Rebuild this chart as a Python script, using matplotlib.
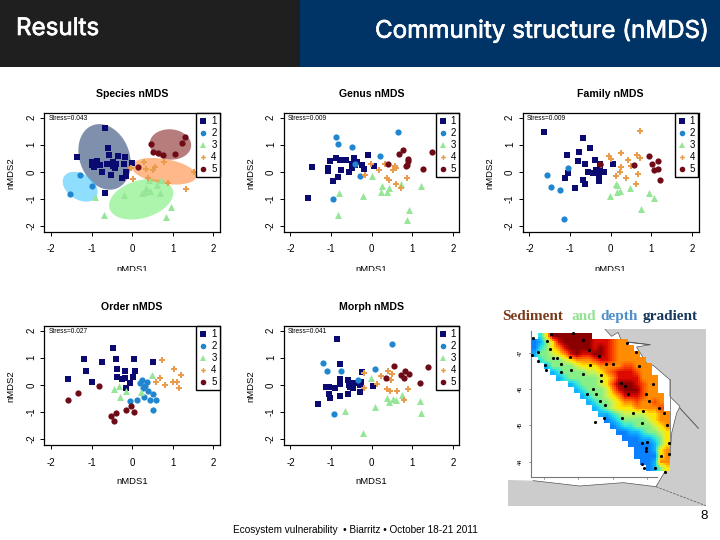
#!/usr/bin/python

import numpy as np
import matplotlib
matplotlib.use('Agg')
import matplotlib.pyplot as plt
import matplotlib.patheffects as pe
from matplotlib.colors import LinearSegmentedColormap
from matplotlib.lines import Line2D
from matplotlib.patches import Rectangle

plt.rcParams['font.family'] = ['Liberation Sans', 'DejaVu Sans']
plt.rcParams['axes.unicode_minus'] = False

group_names = ['1', '2', '3', '4', '5']
group_colors = ['#0a0a70', '#1f86cf', '#97e597', '#e89c4c', '#6e0b16']
group_markers = ['s', 'o', '^', 'P', 'o']
group_sizes = [20, 20, 25, 14, 20]
ticks = [-2, -1, 0, 1, 2]

species_1 = [(-0.67, 1.6), (-0.6, 0.88), (-1.35, 0.53), (-0.57, 0.61), (-0.34, 0.58), (-0.18, 0.53), (-0.98, 0.38), (-0.86, 0.41), (-1.0, 0.26), (-0.94, 0.17), (-0.78, 0.27), (-0.63, 0.3), (-0.47, 0.35), (-0.39, 0.29), (-0.2, 0.29), (-0.48, 0.2), (-0.43, 0.13), (-0.75, -0.02), (-0.51, -0.13), (-0.16, -0.01), (-0.16, -0.16), (-0.25, -0.23), (-0.66, -0.78), (0.0, 0.32)]
species_2 = [(-1.29, -0.13), (-1.0, -0.52), (-1.52, -0.82)]
species_3 = [(-0.91, -0.93), (-0.69, -1.61), (-0.2, -0.87), (0.33, -0.59), (0.41, -0.29), (0.7, -0.3), (0.23, -0.78), (0.31, -0.74), (0.43, -0.7), (0.68, -0.77), (0.62, -0.5), (0.95, -1.29), (0.84, -1.68)]
species_4 = [(0.01, -0.26), (-0.02, 0.13), (0.3, 0.35), (0.34, 0.09), (0.5, 0.05), (0.57, 0.17), (0.77, 0.35), (0.89, -0.43), (1.32, -0.62), (1.52, -0.01), (0.39, -0.23)]
species_5 = [(0.15, 0.17), (0.47, 1.02), (0.52, 0.72), (0.64, 0.68), (0.76, 0.62), (1.05, 0.66), (1.23, 1.06), (1.31, 1.28)]

genus_1 = [(-1.47, 0.17), (-1.57, -0.96), (-1.03, 0.39), (-1.07, 0.13), (-1.07, 0.04), (-0.88, 0.51), (-0.78, 0.44), (-0.63, 0.44), (-0.43, 0.5), (-0.08, 0.61), (0.06, 0.2), (-0.35, 0.38), (-0.49, 0.29), (-0.41, 0.26), (-0.25, 0.26), (-0.49, 0.13), (-0.19, 0.11), (-0.75, 0.06), (-0.57, -0.02), (-0.84, -0.2), (-0.96, -0.34)]
genus_2 = [(-0.89, 1.27), (-0.84, 1.02), (-0.49, 0.9), (0.64, 1.46), (0.2, 0.6), (-0.41, 0.29), (-0.29, -0.15), (-0.94, -1.02)]
genus_3 = [(0.01, -0.17), (0.25, -0.54), (0.43, -0.59), (0.71, -0.44), (1.21, -0.54), (0.23, -0.76), (0.38, -0.76), (-0.81, -0.78), (-0.22, -0.89), (-0.84, -1.61), (0.92, -1.4), (0.86, -1.79)]
genus_4 = [(-0.02, 0.29), (-0.16, -0.1), (0.17, 0.07), (0.33, 0.3), (0.52, 0.05), (0.57, 0.2), (0.61, 0.15), (0.38, -0.21), (0.43, -0.32), (0.59, -0.44), (0.72, -0.59), (0.88, -0.23)]
genus_5 = [(0.41, 0.29), (0.68, 0.65), (0.78, 0.79), (0.9, 0.48), (0.9, 0.39), (0.86, 0.26), (0.84, 0.21), (1.27, 0.11), (1.49, 0.72)]

family_1 = [(-1.64, 1.48), (-0.69, 1.23), (-0.52, 0.87), (-0.79, 0.72), (-1.08, 0.61), (-0.8, 0.39), (-0.64, 0.3), (-0.39, 0.44), (0.05, 0.3), (-0.27, 0.29), (-1.04, -0.05), (-1.12, -0.23), (-0.55, -0.02), (-0.43, -0.05), (-0.35, 0.07), (-0.27, 0.05), (-0.16, -0.02), (-0.69, -0.29), (-0.63, -0.45), (-0.89, -0.6), (-0.29, -0.17), (-0.29, -0.35)]
family_2 = [(-1.05, 0.15), (-1.57, -0.12), (-1.48, -0.56), (-1.25, -0.67), (-1.16, -1.73)]
family_3 = [(0.12, -0.45), (0.16, -0.48), (-0.02, -0.91), (0.16, -0.76), (0.24, -0.72), (0.47, -0.59), (0.94, -0.77), (1.07, -0.95), (0.75, -1.38)]
family_4 = [(0.72, 1.51), (0.25, 0.7), (-0.04, 0.57), (0.01, 0.48), (-0.24, 0.26), (0.43, 0.45), (0.65, 0.63), (0.71, 0.52), (0.26, 0.16), (0.24, 0.01), (0.14, -0.16), (0.37, -0.23), (0.67, -0.07), (0.62, -0.45), (0.51, 0.23)]
family_5 = [(-0.27, 0.29), (0.58, 0.24), (0.93, 0.59), (1.02, 0.29), (1.16, 0.39), (1.17, 0.11), (1.06, 0.07), (1.21, -0.3)]

order_1 = [(-0.47, 1.34), (-1.19, 0.95), (-0.39, 0.96), (0.05, 0.94), (-0.75, 0.83), (0.52, 0.83), (-1.13, 0.52), (-0.37, 0.58), (-0.17, 0.51), (0.07, 0.51), (-1.57, 0.22), (-0.99, 0.11), (-0.38, 0.29), (-0.18, 0.25), (-0.24, 0.2), (0.02, 0.28), (-0.05, 0.06), (-0.15, -0.11)]
order_2 = [(0.25, 0.19), (0.2, 0.07), (0.37, 0.12), (0.31, -0.05), (0.26, -0.13), (0.39, -0.24), (0.51, -0.34), (0.28, -0.45), (0.12, -0.57), (-0.05, -0.6), (0.44, -0.57), (0.58, -0.57), (0.52, -0.94)]
order_3 = [(-0.32, -0.06), (-0.46, -0.16), (-0.16, -0.24), (0.21, -0.27), (-0.31, -0.44), (0.49, 0.37)]
order_4 = [(0.74, 0.91), (1.02, 0.57), (1.2, 0.37), (0.69, 0.24), (0.59, 0.11), (0.8, -0.01), (1.01, 0.11), (1.11, 0.1), (1.14, -0.11)]
order_5 = [(-0.82, -0.06), (-1.33, -0.3), (-1.57, -0.56), (-0.04, -0.77), (-0.15, -0.93), (0.05, -0.99), (-0.39, -1.03), (-0.52, -1.14), (-0.45, -1.32)]

morph_1 = [(-0.85, 1.68), (-0.78, 0.76), (-1.33, -0.69), (-0.25, 0.47), (-0.79, 0.22), (-0.59, 0.18), (-0.79, 0.04), (-0.57, 0.01), (-0.43, 0.08), (-0.27, 0.11), (-0.3, -0.01), (-0.53, -0.08), (-0.47, -0.11), (-1.12, -0.07), (-1.04, -0.07), (-0.9, -0.13), (-1.06, -0.33), (-1.02, -0.47), (-0.78, -0.41), (-0.59, -0.34), (-0.3, -0.28), (0.02, -0.04)]
morph_2 = [(0.51, 1.51), (-1.19, 0.8), (-1.11, 0.52), (-0.76, 0.52), (0.09, 0.57), (-0.34, 0.19), (-0.92, -1.06)]
morph_3 = [(-0.02, 0.25), (0.75, -0.39), (0.37, -0.47), (0.43, -0.62), (0.52, -0.53), (0.61, -0.56), (1.19, -0.59), (0.08, -0.83), (-0.65, -0.98), (1.21, -1.05), (-0.22, -1.78)]
morph_4 = [(-0.18, 0.44), (-0.19, -0.1), (0.13, 0.04), (0.23, 0.34), (0.41, 0.52), (0.51, 0.4), (0.47, 0.16), (0.38, -0.14), (0.46, -0.23), (0.62, -0.22), (0.8, -0.56), (0.89, -0.17)]
morph_5 = [(0.34, 0.25), (0.54, 0.69), (0.72, 0.37), (0.81, 0.51), (0.8, 0.25), (0.92, 0.4), (1.2, 0.06), (1.38, 0.64)]

# ellipses on the species plot: centre, half widths, correlation
ell_cx = [-0.68, -1.28, 0.22, 0.78, 0.94]
ell_cy = [0.55, -0.55, -1.01, 0.02, 1.01]
ell_sx = [0.645, 0.43, 0.79, 0.8, 0.51]
ell_sy = [1.21, 0.55, 0.75, 0.49, 0.56]
ell_rho = [-0.2, -0.35, 0.3, -0.35, -0.05]
ell_colors = ['#17366a', '#35c4ff', '#6bee6b', '#ff7f2a', '#7d1010']

# sediment and depth map, one digit per cell, low to high
heat_rows = [
    '.259999999',
    '0135899999888766',
    '02356899998987666',
    '133456898899876666',
    '.233345666788766666',
    '..133334555666677666',
    '...12333344567888766',
    '....12333334568888666',
    '......123334579998766',
    '.......12333468999766',
    '........12334568887666',
    '.........1233456676676',
    '..........123455566667',
    '...........112344445566',
    '............01233334566',
    '.............0122333456',
    '..............001123345',
    '...............00011235',
    '................0000135',
    '.................000156',
    '.................000056',
    '..................00166',
    '...................0135',
]
heat_colors = ['#0a80ff', '#12b4ff', '#30e8e0', '#86f086', '#c8f25a', '#ffe800', '#ff8c00', '#ff4a00', '#dd0a00', '#8a0000']

map_x = [130, 183, 250, 280, 172, 298, 180, 145, 128, 190, 203, 240, 145, 215, 165, 170, 215, 243, 300, 280, 333, 335, 328, 348, 370, 410, 437, 448, 490, 392, 405, 415, 467, 478, 508, 522, 530, 537, 537, 512, 310, 292, 320, 330, 345, 315, 343, 395, 428, 460, 455, 455, 470, 467, 467, 455, 462, 495, 525]
map_y = [115, 103, 100, 120, 125, 150, 147, 158, 165, 175, 175, 172, 183, 192, 195, 210, 218, 212, 197, 222, 225, 245, 170, 192, 193, 130, 157, 198, 253, 250, 260, 283, 283, 305, 325, 338, 375, 428, 463, 468, 267, 283, 283, 303, 317, 367, 355, 355, 338, 333, 368, 430, 427, 445, 452, 493, 503, 503, 515]
coast_x = [55, 345, 365, 385, 395, 480, 440, 470, 490, 540, 540, 570, 560, 545, 540, 525, 498, 400, 270, 130, 55]
coast_y = [88, 88, 110, 98, 125, 135, 142, 190, 197, 240, 290, 320, 340, 400, 470, 515, 560, 548, 558, 542, 540]

panels = [
    ('Species nMDS', 'Stress=0.043', 44, 113, [species_1, species_2, species_3, species_4, species_5]),
    ('Genus nMDS', 'Stress=0.009', 283.5, 113, [genus_1, genus_2, genus_3, genus_4, genus_5]),
    ('Family nMDS', 'Stress=0.009', 522.5, 113, [family_1, family_2, family_3, family_4, family_5]),
    ('Order nMDS', 'Stress=0.027', 44, 326, [order_1, order_2, order_3, order_4, order_5]),
    ('Morph nMDS', 'Stress=0.041', 283.5, 326, [morph_1, morph_2, morph_3, morph_4, morph_5]),
]


def px_box(left, top, right, bottom):
    return [left / 720, 1 - bottom / 540, (right - left) / 720, (bottom - top) / 540]


def px_text(x, y, s, **kw):
    return fig.text(x / 720, 1 - y / 540, s, **kw)


def soften(grid, n=3):
    # the map is a bit blurred in the slide, blur the cells inside the valid area only
    big = np.repeat(np.repeat(grid, n, axis=0), n, axis=1)
    ok = ~np.isnan(big)
    vals = np.nan_to_num(big)
    top = np.zeros_like(vals)
    bot = np.zeros_like(vals)
    for dx in range(-1, 2):
        for dy in range(-1, 2):
            top += np.roll(np.roll(vals * ok, dx, axis=1), dy, axis=0)
            bot += np.roll(np.roll(ok * 1.0, dx, axis=1), dy, axis=0)
    out = top / np.maximum(bot, 1)
    out[~ok] = np.nan
    return out


fig = plt.figure(figsize=(7.2, 5.4), dpi=100)

# header and footer
fig.add_artist(Rectangle((0, 1 - 67 / 540), 300 / 720, 67 / 540, transform=fig.transFigure, color='#1f1f1f', lw=0))
fig.add_artist(Rectangle((300 / 720, 1 - 67 / 540), 420 / 720, 67 / 540, transform=fig.transFigure, color='#003366', lw=0))
head1 = px_text(16, 29, 'Results', color='white', fontsize=17.4, family=['Inter'], va='center', ha='left')
head2 = px_text(709, 31, 'Community structure (nMDS)', color='white', fontsize=17.4, family=['Inter'], va='center', ha='right')
for h in [head1, head2]:
    h.set_path_effects([pe.withStroke(linewidth=0.5, foreground='white')])
px_text(233, 530, 'Ecosystem vulnerability  • Biarritz • October 18-21 2011', fontsize=7.2, va='center', ha='left')
px_text(708, 516, '8', fontsize=9.5, va='center', ha='right')

# nMDS panels
for title, stress, left, top, groups in panels:
    ax = fig.add_axes(px_box(left, top, left + 176, top + 119))
    ax.set_xlim(-2.17, 2.16)
    ax.set_ylim(-2.22, 2.17)
    if title == 'Species nMDS':
        t = np.linspace(0, 2 * np.pi, 100)
        for i in range(5):
            phi = np.arccos(ell_rho[i])
            ax.fill(ell_cx[i] + ell_sx[i] * np.cos(t), ell_cy[i] + ell_sy[i] * np.cos(t + phi),
                    color=ell_colors[i], alpha=0.55, lw=0, zorder=1)
    for i in range(5):
        xs = [p[0] for p in groups[i]]
        ys = [p[1] for p in groups[i]]
        ax.scatter(xs, ys, s=group_sizes[i], c=group_colors[i], marker=group_markers[i], lw=0, zorder=2)
    ax.set_xticks(ticks)
    ax.set_yticks(ticks)
    ax.tick_params(labelsize=7, length=3, width=0.7)
    ax.tick_params(axis='x', pad=6)
    ax.tick_params(axis='y', pad=2.5)
    plt.setp(ax.get_yticklabels(), rotation=90, va='center')
    for s in ax.spines.values():
        s.set_linewidth(0.9)
    ax.text(0.025, 0.955, stress, transform=ax.transAxes, fontsize=4.8, va='center', ha='left')
    handles = [Line2D([], [], ls='', marker=group_markers[i], color=group_colors[i],
                      markersize=np.sqrt(group_sizes[i]) * 0.9, markeredgewidth=0) for i in range(5)]
    leg = ax.legend(handles, group_names, loc='upper right', fontsize=7, framealpha=1, fancybox=False,
                    edgecolor='black', borderaxespad=0.05, labelspacing=0.2, handletextpad=0.4,
                    handlelength=0.85, borderpad=0.3)
    leg.get_frame().set_linewidth(1.0)
    leg.set_zorder(5)
    cx = left + 88
    px_text(cx, top - 19, title, fontsize=7.6, fontweight='bold', va='center', ha='center')
    px_text(cx, top + 156, 'nMDS1', fontsize=6.8, va='center', ha='center')
    px_text(left - 33, top + 60, 'nMDS2', fontsize=6.8, rotation=90, va='center', ha='center')

# the top row x labels are cut off in the slide
fig.add_artist(Rectangle((0, 1 - 295 / 540), 1, 24 / 540, transform=fig.transFigure, color='white', lw=0, zorder=10))

# map panel
mp = fig.add_axes(px_box(508, 329, 706, 505.7), facecolor='#cccccc')
mp.set_xlim(55, 648)
mp.set_ylim(617, 88)
mp.set_xticks([])
mp.set_yticks([])
for s in mp.spines.values():
    s.set_visible(False)
mp.fill(coast_x, coast_y, color='white', lw=0, zorder=1)
mp.plot(coast_x[1:-1], coast_y[1:-1], color='#555555', lw=0.5, zorder=2)
mp.plot([498, 648], [560, 617], color='#555555', lw=0.5, ls='--', zorder=2)
mp.plot([570, 625], [325, 385], color='#555555', lw=0.7, zorder=2)
mp.plot([395, 480], [125, 135], color='#555555', lw=0.7, zorder=2)

heat = np.array([[np.nan if c == '.' else int(c) for c in r.ljust(23, '.')] for r in heat_rows])
soft = soften(heat)
x_edges = 126 + 6 * np.arange(soft.shape[1] + 1)
y_edges = 100 + 6 * np.arange(soft.shape[0] + 1)
mp.pcolormesh(x_edges, y_edges, np.ma.masked_invalid(soft),
              cmap=LinearSegmentedColormap.from_list('sediment', heat_colors),
              vmin=0, vmax=9, zorder=3)
mp.plot([125, 125, 500], [95, 530, 530], color='#777777', lw=0.8, zorder=4)
mp.plot([540, 540], [238, 440], color='#777777', lw=0.6, zorder=2)
mp.scatter(map_x, map_y, s=5, c='black', lw=0, zorder=5)

for lat_y, lab in zip([160, 267, 375, 485], ['47', '46', '45', '44']):
    mp.plot([118, 125], [lat_y, lat_y], color='#777777', lw=0.5, zorder=4)
    mp.text(93, lat_y, lab, fontsize=4, rotation=90, va='center', ha='center', zorder=4)
for lon_x in [163, 265, 368, 470]:
    mp.plot([lon_x, lon_x], [530, 538], color='#777777', lw=0.5, zorder=4)

# title of the map, every word has its own colour
words = ['Sediment', 'and', 'depth', 'gradient']
word_x = [502.5, 571, 600, 642.5]
word_colors = ['#7a3a1c', '#93e393', '#4f8fc9', '#16385c']
for wx, w, wc in zip(word_x, words, word_colors):
    px_text(wx, 320, w, fontsize=11, family=['Liberation Serif'], fontweight='bold', color=wc, va='baseline', ha='left')

fig.savefig('out.png', dpi=100)
